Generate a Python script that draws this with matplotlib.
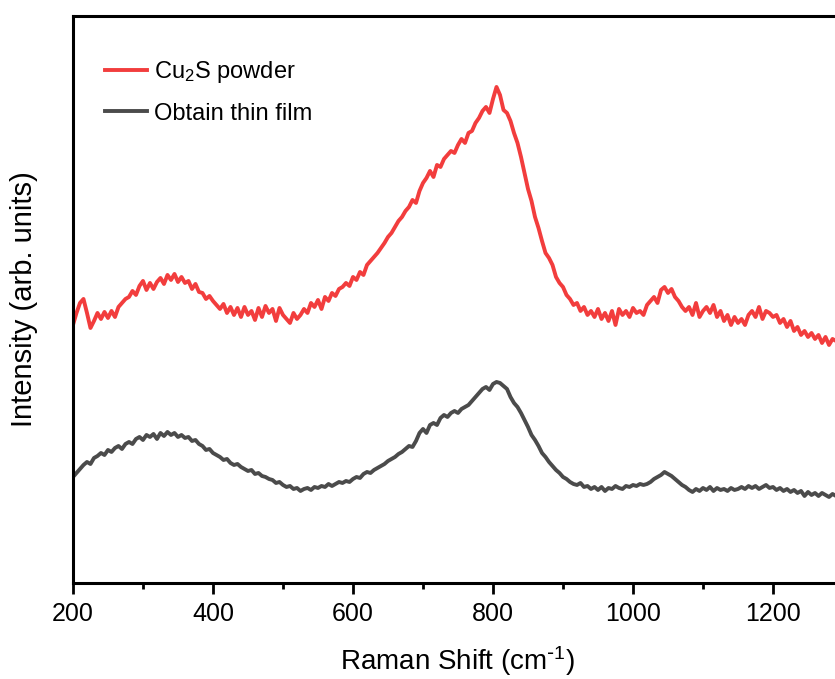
import numpy as np
import matplotlib
matplotlib.use("Agg")
import matplotlib.pyplot as plt

plt.rcParams['font.family'] = ['Liberation Sans', 'DejaVu Sans']
plt.rcParams['mathtext.default'] = 'regular'

# raman shift grid (cm-1), sampled every 5 cm-1
shift = np.arange(200, 1295, 5)

# Cu2S powder (arb. units)
powder = [258, 270, 280, 284, 270, 255, 262, 270, 264, 271,
          265, 272, 266, 276, 280, 284, 286, 292, 288, 297,
          302, 293, 300, 294, 301, 305, 299, 308, 303, 309,
          301, 306, 300, 302, 294, 299, 291, 290, 284, 287,
          282, 278, 274, 279, 270, 276, 268, 275, 266, 276,
          268, 272, 263, 275, 266, 277, 270, 274, 262, 275,
          268, 264, 260, 270, 264, 268, 274, 270, 280, 276,
          283, 274, 286, 282, 290, 287, 294, 296, 300, 297,
          306, 303, 311, 308, 318, 322, 326, 330, 335, 340,
          346, 350, 356, 362, 366, 372, 376, 383, 380, 392,
          400, 405, 412, 406, 418, 416, 424, 428, 432, 430,
          438, 444, 440, 450, 452, 460, 465, 472, 476, 470,
          484, 496, 488, 473, 470, 462, 450, 440, 426, 410,
          394, 382, 366, 355, 342, 330, 325, 318, 306, 300,
          296, 288, 284, 278, 280, 272, 276, 268, 272, 266,
          274, 264, 270, 262, 272, 258, 274, 268, 272, 266,
          275, 270, 272, 268, 278, 282, 286, 280, 293, 296,
          290, 294, 286, 282, 276, 272, 276, 268, 280, 266,
          272, 276, 270, 278, 266, 272, 262, 268, 258, 266,
          260, 264, 258, 268, 272, 266, 276, 264, 272, 270,
          266, 268, 260, 264, 256, 262, 252, 256, 248, 252,
          246, 250, 244, 248, 240, 246, 238, 244, 242]

# obtained thin film (arb. units)
film = [106, 110, 114, 118, 121, 119, 125, 127, 130, 128,
        133, 131, 135, 137, 134, 139, 141, 139, 144, 146,
        143, 148, 146, 149, 144, 150, 147, 151, 148, 150,
        146, 148, 145, 146, 142, 143, 139, 137, 133, 134,
        130, 128, 126, 123, 124, 120, 118, 119, 116, 114,
        112, 113, 109, 110, 107, 106, 104, 103, 100, 101,
        98, 96, 97, 94, 95, 92, 94, 95, 93, 96,
        95, 97, 96, 99, 97, 99, 101, 100, 102, 101,
        104, 106, 105, 109, 111, 110, 113, 115, 117, 119,
        122, 124, 126, 129, 131, 134, 137, 136, 142, 150,
        154, 150, 158, 160, 158, 165, 168, 166, 170, 172,
        170, 174, 176, 178, 182, 186, 190, 194, 196, 193,
        199, 201, 200, 197, 194, 186, 180, 176, 170, 163,
        156, 148, 143, 137, 130, 126, 121, 117, 113, 110,
        106, 104, 101, 99, 98, 100, 96, 97, 94, 96,
        93, 96, 92, 95, 94, 97, 95, 94, 97, 96,
        98, 97, 99, 98, 99, 101, 104, 106, 108, 111,
        109, 107, 104, 101, 98, 96, 93, 91, 94, 92,
        95, 93, 96, 92, 95, 93, 94, 92, 95, 93,
        94, 96, 94, 97, 95, 97, 94, 96, 98, 95,
        96, 93, 95, 92, 94, 91, 93, 90, 92, 87,
        91, 88, 90, 87, 90, 88, 86, 89, 87]

labels = ['Cu$_2$S powder', 'Obtain thin film']
colors = ['#F23D3D', '#4B4B4B']

fig = plt.figure(figsize=(8.35, 6.79), dpi=100)
# axes runs a bit past the right edge, like the cropped original
ax = fig.add_axes([0.0874, 0.1414, 0.9222, 0.8351])

ax.plot(shift, powder, color=colors[0], lw=2.8, label=labels[0])
ax.plot(shift, film, color=colors[1], lw=2.8, label=labels[1])

ax.set_xlim(200, 1300)
ax.set_ylim(0, 567)
ax.set_xticks([200, 400, 600, 800, 1000, 1200])
ax.set_xticks(np.arange(300, 1300, 200), minor=True)
ax.set_yticks([])

for s in ax.spines.values():
    s.set_linewidth(2.2)
ax.tick_params(axis='x', which='major', direction='out', length=8, width=2,
               pad=6, labelsize=18)
ax.tick_params(axis='x', which='minor', direction='out', length=4, width=2)

ax.set_xlabel('Raman Shift (cm$^{\\text{-}1}$)', fontsize=20, labelpad=13)
ax.set_ylabel('Intensity (arb. units)', fontsize=21, labelpad=25)

ax.legend(loc='upper left', bbox_to_anchor=(0.042, 0.924), frameon=False,
          fontsize=17, handlelength=1.75, handletextpad=0.3,
          labelspacing=0.75, borderpad=0, borderaxespad=0)

fig.savefig('out.png', dpi=100)
